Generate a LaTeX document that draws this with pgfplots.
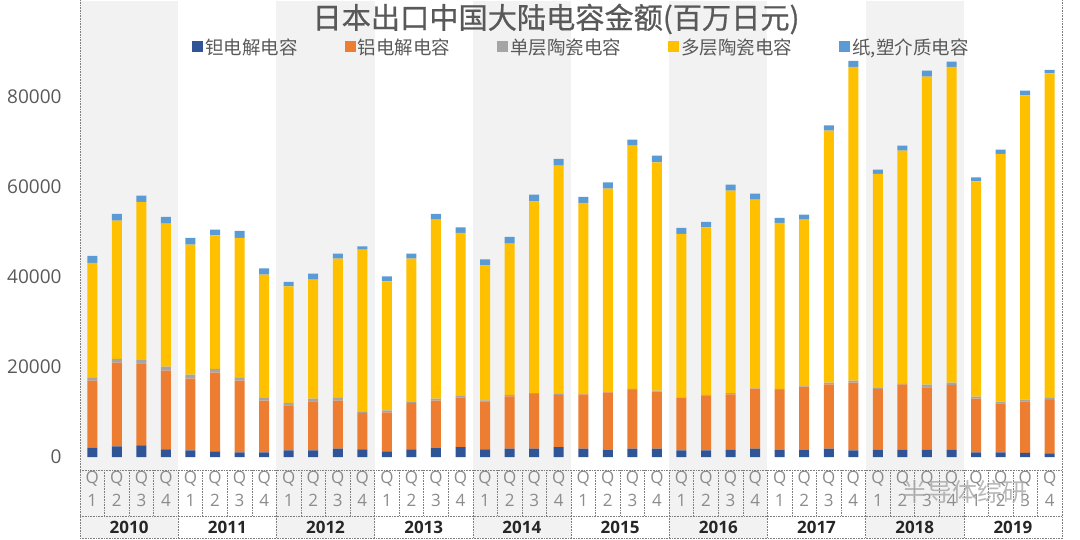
\documentclass[border=0pt]{standalone}
\usepackage{fontspec}
\setmainfont{Open Sans}
\newfontfamily\cjk{Noto Sans CJK SC}
\newfontfamily\cjkt[FakeBold=0.7]{Noto Sans CJK SC}
\usepackage{pgfplots}
\usepackage{pgfplotstable}
\pgfplotsset{compat=1.18}
\definecolor{cta}{HTML}{2F5597}
\definecolor{cal}{HTML}{ED7D31}
\definecolor{csl}{HTML}{A5A5A5}
\definecolor{cml}{HTML}{FFC000}
\definecolor{cpp}{HTML}{5B9BD5}
\definecolor{band}{HTML}{F2F2F2}
\definecolor{txt}{HTML}{595959}
\definecolor{qtxt}{HTML}{8C8C8C}
\definecolor{dotc}{HTML}{7F7F7F}

\pgfplotstableread{
x ta al sl ml pp
0 2074 14889 741 25407 1556
1 2370 18593 815 30733 1489
2 2593 18222 715 35137 1400
3 1704 17481 889 31778 1481
4 1481 15926 889 28889 1482
5 1259 17482 815 29696 1259
6 1037 15926 593 31111 1555
7 1037 11482 740 27252 1400
8 1481 10000 519 25911 978
9 1481 10889 593 26437 1333
10 1852 10667 592 30956 1111
11 1704 8074 370 35919 733
12 1259 8667 444 28652 1111
13 1704 10296 370 31697 1111
14 2000 10519 444 39770 1267
15 2222 11037 445 36074 1244
16 1704 10666 223 29985 1333
17 1852 11629 297 33622 1489
18 1852 12148 222 42578 1489
19 2222 11556 370 50585 1489
20 1852 12074 222 42296 1334
21 1630 12740 223 45029 1400
22 1852 13037 222 54067 1333
23 1852 12667 222 50726 1489
24 1481 11704 74 36297 1333
25 1481 12223 74 37244 1200
26 1630 12296 296 44956 1333
27 1852 13333 74 41919 1333
28 1630 13259 222 36889 1111
29 1630 14000 296 36807 1111
30 1852 14296 371 55992 1178
31 1481 15038 444 69704 1333
32 1630 13481 222 47556 955
33 1630 14518 222 51697 1111
34 1630 13851 593 68437 1333
35 1630 14370 519 70148 1177
36 1037 11926 444 47837 889
37 1037 10889 370 55037 956
38 889 11481 371 67615 1044
39 815 11852 444 72133 756
}\datatable

\begin{document}
\begin{tikzpicture}[x=1pt,y=1pt]
\useasboundingbox (0,0) rectangle (1080,539);
% year background bands
\foreach \k in {0,2,4,6,8} {
  \fill[band] ({80+98.2*\k},1) rectangle ({80+98.2*(\k+1)},538);
}
\begin{axis}[
  at={(80pt,69pt)}, anchor=south west,
  scale only axis, width=982pt, height=469pt,
  xmin=-0.5, xmax=39.5,
  ymin=-2889, ymax=101333,
  ybar stacked, bar width=10pt,
  axis line style={draw=none},
  tick style={draw=none},
  ytick={0,20000,40000,60000,80000},
  scaled y ticks=false,
  /pgf/number format/.cd, 1000 sep={}, assume math mode=true, /pgfplots/.cd,
  yticklabel style={font=\fontsize{19}{19}\selectfont, color=txt, xshift=-15pt},
  xtick={0,...,39},
  xticklabels={{Q\\1},{Q\\2},{Q\\3},{Q\\4},{Q\\1},{Q\\2},{Q\\3},{Q\\4},{Q\\1},{Q\\2},{Q\\3},{Q\\4},{Q\\1},{Q\\2},{Q\\3},{Q\\4},{Q\\1},{Q\\2},{Q\\3},{Q\\4},{Q\\1},{Q\\2},{Q\\3},{Q\\4},{Q\\1},{Q\\2},{Q\\3},{Q\\4},{Q\\1},{Q\\2},{Q\\3},{Q\\4},{Q\\1},{Q\\2},{Q\\3},{Q\\4},{Q\\1},{Q\\2},{Q\\3},{Q\\4}},
  xticklabel style={font=\fontsize{17}{23}\selectfont, color=qtxt, align=center, anchor=north, yshift=2pt},
  legend columns=5,
  legend style={draw=none, fill=none, at={(0.5107,0.902)}, anchor=center,
    font=\cjk\fontsize{18.5}{20}\selectfont, text=txt,
    /tikz/every even column/.append style={column sep=45pt}},
  mybar/.style={fill=#1, draw=none,
    legend image code/.code={\fill (0pt,-5.5pt) rectangle (11pt,5.5pt);}},
]
\addplot[mybar=cta] table[x=x,y=ta]{\datatable};
\addlegendentry{钽电解电容}
\addplot[mybar=cal] table[x=x,y=al]{\datatable};
\addlegendentry{铝电解电容}
\addplot[mybar=csl] table[x=x,y=sl]{\datatable};
\addlegendentry{单层陶瓷电容}
\addplot[mybar=cml] table[x=x,y=ml]{\datatable};
\addlegendentry{多层陶瓷电容}
\addplot[mybar=cpp] table[x=x,y=pp]{\datatable};
\addlegendentry{纸,塑介质电容}
\end{axis}
% category grid (dotted)
\begin{scope}[draw=dotc, line width=0.6pt, dash pattern=on 0.8pt off 0.8pt]
\draw (80,0.5) -- (80,538.5);
\draw (1062,0.5) -- (1062,538.5);
\draw (80,69) -- (1062,69);
\draw (80,23) -- (1062,23);
\draw (80,1) -- (1062,1);
\foreach \k in {1,...,39} { \draw ({80+24.55*\k},69) -- ({80+24.55*\k},23); }
\foreach \k in {1,...,9} { \draw ({80+98.2*\k},23) -- ({80+98.2*\k},1); }
\end{scope}
\foreach \k/\yr in {0/2010,1/2011,2/2012,3/2013,4/2014,5/2015,6/2016,7/2017,8/2018,9/2019} {
  \node[font=\bfseries\fontsize{17}{17}\selectfont, text=black!85] at ({80+98.2*\k+49.1},12) {\yr};
}
\node[font=\cjkt\fontsize{29.2}{29.2}\selectfont, text=txt] at (556,520) {日本出口中国大陆电容金额(百万日元)};
\node[font=\cjk\fontsize{25}{25}\selectfont, text=gray!70, opacity=0.8] at (965,47) {半导体综研};
\end{tikzpicture}
\end{document}
